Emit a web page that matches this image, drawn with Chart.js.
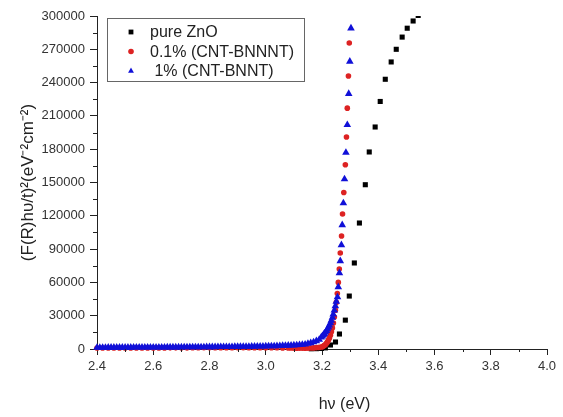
<!DOCTYPE html>
<html>
<head>
<meta charset="utf-8">
<script src="https://cdn.jsdelivr.net/npm/chart.js"></script>
<style>
  html, body { margin: 0; padding: 0; background: #fff; }
  canvas { display: block; }
</style>
</head>
<body>
<canvas id="chart" width="563" height="417"></canvas>
<script>
// === Data ===
const seriesNames = ['pure ZnO', '0.1% (CNT-BNNNT)', ' 1% (CNT-BNNT)'];

// pure ZnO (black squares)
const znoX = [3.162, 3.180, 3.198, 3.212, 3.230, 3.248, 3.262, 3.283, 3.297, 3.315, 3.333,
  3.354, 3.368, 3.389, 3.407, 3.425, 3.446, 3.464, 3.485, 3.503, 3.524, 3.542];
const znoY = [200, 300, 500, 1000, 3600, 6300, 13500, 26000, 47700, 77500, 113500,
  148000, 177500, 200000, 223000, 243000, 258600, 270000, 281000, 289000, 295500, 300500];

// 0.1% (CNT-BNNNT) (red circles)
const redX = [2.40, 2.42, 2.44, 2.46, 2.48, 2.50, 2.52, 2.54, 2.56, 2.58,
  2.60, 2.62, 2.64, 2.66, 2.68, 2.70, 2.72, 2.74, 2.76, 2.78,
  2.80, 2.82, 2.84, 2.86, 2.88, 2.90, 2.92, 2.94, 2.96, 2.98,
  3.00, 3.02, 3.04, 3.06, 3.08, 3.09, 3.10, 3.11, 3.12, 3.13,
  3.14, 3.15, 3.16, 3.17, 3.18, 3.19, 3.1985, 3.202, 3.2055, 3.209,
  3.2125, 3.216, 3.2195, 3.223, 3.2265, 3.230, 3.2335, 3.237, 3.2405, 3.244,
  3.2475, 3.251, 3.2545, 3.258, 3.2615, 3.265, 3.2695, 3.273, 3.2775, 3.283,
  3.287, 3.290, 3.294, 3.297];
const redY = [900, 900, 900, 920, 920, 940, 940, 960, 960, 980,
  980, 1000, 1000, 1020, 1020, 1040, 1040, 1060, 1060, 1080,
  1080, 1100, 1100, 1120, 1120, 1140, 1140, 1160, 1160, 1180,
  1180, 1150, 1100, 1000, 900, 850, 800, 780, 760, 760,
  780, 820, 900, 1000, 1200, 1500, 1800, 2200, 2700, 3300,
  4100, 5100, 6400, 8000, 10000, 12500, 15500, 19000, 23400, 28800,
  35000, 42000, 50000, 60000, 72000, 86500, 101800, 121600, 141000, 166000,
  191000, 217000, 246000, 275700];

// 1% (CNT-BNNT) (blue triangles)
const blueX = [2.40, 2.41, 2.42, 2.43, 2.44, 2.45, 2.46, 2.47, 2.48, 2.49,
  2.50, 2.51, 2.52, 2.53, 2.54, 2.55, 2.56, 2.57, 2.58, 2.59,
  2.60, 2.61, 2.62, 2.63, 2.64, 2.65, 2.66, 2.67, 2.68, 2.69,
  2.70, 2.71, 2.72, 2.73, 2.74, 2.75, 2.76, 2.77, 2.78, 2.79,
  2.80, 2.81, 2.82, 2.83, 2.84, 2.85, 2.86, 2.87, 2.88, 2.89,
  2.90, 2.91, 2.92, 2.93, 2.94, 2.95, 2.96, 2.97, 2.98, 2.99,
  3.00, 3.01, 3.02, 3.03, 3.04, 3.05, 3.06, 3.07, 3.08, 3.09,
  3.10, 3.11, 3.12, 3.13, 3.14, 3.15, 3.16, 3.17, 3.18, 3.19,
  3.197, 3.201, 3.205, 3.208, 3.212, 3.216, 3.219, 3.223, 3.226, 3.230,
  3.233, 3.237, 3.240, 3.244, 3.2475, 3.251, 3.255, 3.258, 3.262, 3.265,
  3.269, 3.272, 3.276, 3.280, 3.285, 3.290, 3.295, 3.299, 3.303];
const blueY = [1300, 1300, 1310, 1320, 1330, 1340, 1350, 1360, 1370, 1380,
  1390, 1400, 1410, 1420, 1430, 1440, 1450, 1460, 1470, 1480,
  1500, 1510, 1520, 1530, 1550, 1560, 1570, 1590, 1600, 1620,
  1630, 1650, 1660, 1680, 1700, 1710, 1730, 1750, 1770, 1790,
  1810, 1830, 1850, 1870, 1890, 1920, 1940, 1970, 2000, 2030,
  2060, 2090, 2120, 2160, 2200, 2240, 2280, 2330, 2380, 2430,
  2490, 2550, 2610, 2680, 2760, 2840, 2930, 3030, 3140, 3260,
  3400, 3560, 3740, 3950, 4200, 4800, 5400, 6200, 7200, 8500,
  10500, 11500, 12600, 13800, 15000, 16400, 17900, 19500, 21300, 23300,
  25600, 28300, 31300, 34800, 38800, 42800, 46800, 55900, 68500, 79300,
  93700, 111700, 131500, 153000, 177000, 202000, 230000, 259000, 289000];

// axes
const xMin = 2.4, xMax = 4.0, xStep = 0.2;
const yMin = 0, yMax = 300000, yStep = 30000;
const xTitle = 'hν (eV)';
const yTitle = '(F(R)hυ/t)²(eV⁻²cm⁻²)';

const FONT = "'Liberation Sans', Arial, sans-serif";
const AXIS = '#222';

const toPoints = (xs, ys) => xs.map((x, i) => ({ x: x, y: ys[i] }));

// === Minor ticks (half steps, shorter marks) + x title a bit right of centre ===
const minorTicks = {
  id: 'minorTicks',
  afterDraw(chart) {
    const { ctx, chartArea, scales } = chart;
    ctx.save();
    ctx.strokeStyle = AXIS;
    ctx.lineWidth = 1;
    ctx.beginPath();
    for (let v = yMin + yStep / 2; v < yMax; v += yStep) {
      const py = Math.round(scales.y.getPixelForValue(v)) + 0.5;
      ctx.moveTo(chartArea.left - 4, py);
      ctx.lineTo(chartArea.left, py);
    }
    for (let v = xMin + xStep / 2; v < xMax; v += xStep) {
      const px = Math.round(scales.x.getPixelForValue(v)) + 0.5;
      ctx.moveTo(px, chartArea.bottom);
      ctx.lineTo(px, chartArea.bottom + 3);
    }
    ctx.stroke();

    ctx.fillStyle = '#222';
    ctx.font = '16px ' + FONT;
    ctx.textAlign = 'center';
    ctx.textBaseline = 'middle';
    ctx.fillText(xTitle, scales.x.getPixelForValue(3.28), 405);
    ctx.restore();
  }
};

// === Boxed legend inside the plot ===
function marker(ctx, style, r, x, y) {
  ctx.beginPath();
  if (style === 'rect') {
    const s = r * Math.SQRT1_2;
    ctx.rect(x - s, y - s, 2 * s, 2 * s);
  } else if (style === 'triangle') {
    ctx.moveTo(x, y - r);
    ctx.lineTo(x + r * 0.866, y + r * 0.5);
    ctx.lineTo(x - r * 0.866, y + r * 0.5);
    ctx.closePath();
  } else {
    ctx.arc(x, y, r, 0, Math.PI * 2);
  }
  ctx.fill();
}

const boxLegend = {
  id: 'boxLegend',
  afterDraw(chart) {
    const ctx = chart.ctx;
    ctx.save();
    ctx.strokeStyle = '#666';
    ctx.lineWidth = 1;
    ctx.strokeRect(107.5, 18.5, 197, 63);
    ctx.font = '16px ' + FONT;
    ctx.textBaseline = 'middle';
    ctx.textAlign = 'left';
    chart.data.datasets.forEach((ds, i) => {
      const y = 32 + i * 19.5;
      ctx.fillStyle = ds.backgroundColor;
      marker(ctx, ds.pointStyle, Math.min(ds.pointRadius, 3.4), 131, y);
      ctx.fillStyle = '#222';
      ctx.fillText(ds.label, 150, y + 1);
    });
    ctx.restore();
  }
};

const clipBox = { left: 6, right: 6, top: 0, bottom: 6 };

new Chart(document.getElementById('chart').getContext('2d'), {
  type: 'scatter',
  data: {
    datasets: [
      {
        label: seriesNames[0],
        data: toPoints(znoX, znoY),
        backgroundColor: '#000',
        borderColor: '#000',
        pointStyle: 'rect',
        pointRadius: 3.6,
        pointBorderWidth: 0,
        order: 3,
        clip: clipBox
      },
      {
        label: seriesNames[1],
        data: toPoints(redX, redY),
        backgroundColor: '#dd2222',
        borderColor: '#dd2222',
        pointStyle: 'circle',
        pointRadius: 2.8,
        pointBorderWidth: 0,
        order: 2,
        clip: clipBox
      },
      {
        label: seriesNames[2],
        data: toPoints(blueX, blueY),
        backgroundColor: '#1010d8',
        borderColor: '#1010d8',
        pointStyle: 'triangle',
        pointRadius: 4.4,
        pointBorderWidth: 0,
        order: 1,
        clip: clipBox
      }
    ]
  },
  options: {
    responsive: false,
    animation: false,
    events: [],
    layout: { padding: { left: 0, right: 16, top: 16, bottom: 0 } },
    plugins: {
      legend: { display: false },
      tooltip: { enabled: false }
    },
    scales: {
      x: {
        type: 'linear',
        min: xMin,
        max: xMax,
        border: { color: AXIS, width: 1 },
        grid: { drawOnChartArea: false, color: AXIS, tickLength: 6 },
        ticks: {
          stepSize: xStep,
          padding: 4,
          color: '#333',
          font: { family: FONT, size: 13 },
          callback: v => v.toFixed(1)
        },
        afterFit: s => { s.height = 68; }
      },
      y: {
        type: 'linear',
        min: yMin,
        max: yMax,
        border: { color: AXIS, width: 1 },
        grid: { drawOnChartArea: false, color: AXIS, tickLength: 7 },
        ticks: {
          stepSize: yStep,
          padding: 5,
          color: '#333',
          font: { family: FONT, size: 13 },
          callback: v => String(v)
        },
        title: {
          display: true,
          text: yTitle,
          color: '#222',
          font: { family: FONT, size: 17, lineHeight: 1.2 },
          padding: { top: 18, bottom: 0 }
        },
        afterFit: s => { s.width = 97; }
      }
    }
  },
  plugins: [minorTicks, boxLegend]
});
</script>
</body>
</html>
